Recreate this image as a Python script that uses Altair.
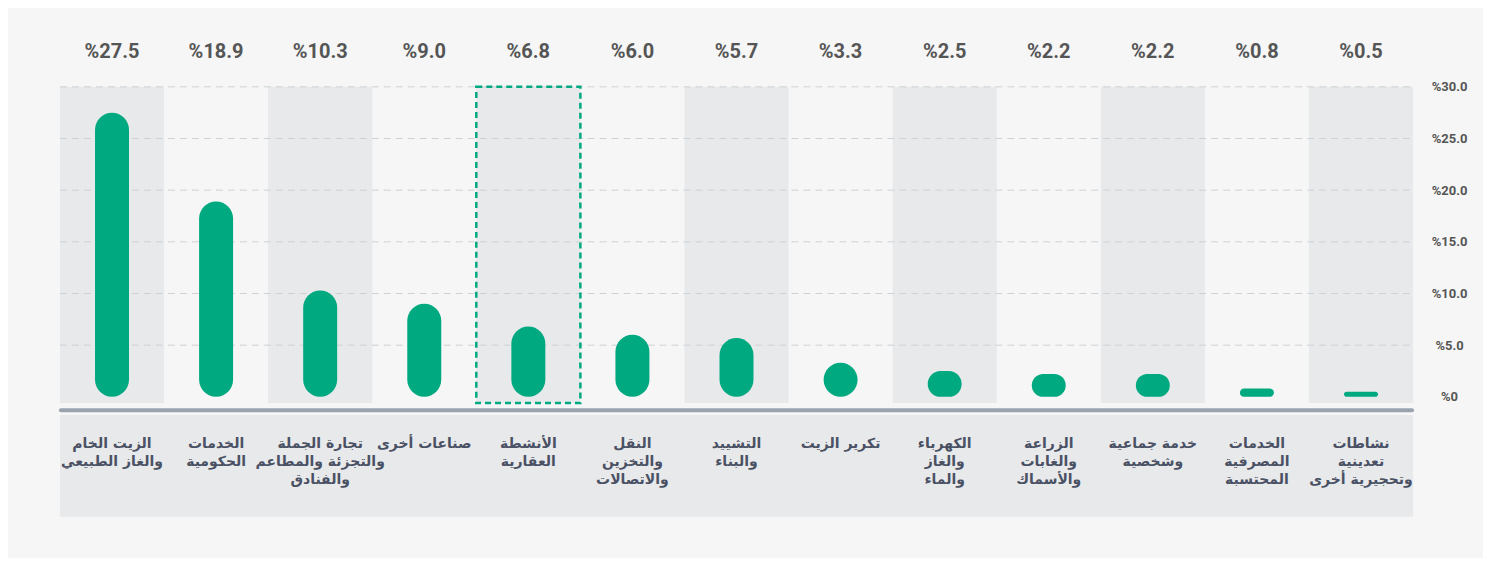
import altair as alt
import pandas as pd

# ---- data ----
categories = [
    "الزيت الخام\nوالغاز الطبيعي",
    "الخدمات\nالحكومية",
    "تجارة الجملة\nوالتجزئة والمطاعم\nوالفنادق",
    "صناعات أخرى",
    "الأنشطة\nالعقارية",
    "النقل\nوالتخزين\nوالاتصالات",
    "التشييد\nوالبناء",
    "تكرير الزيت",
    "الكهرباء\nوالغاز\nوالماء",
    "الزراعة\nوالغابات\nوالأسماك",
    "خدمة جماعية\nوشخصية",
    "الخدمات\nالمصرفية\nالمحتسبة",
    "نشاطات\nتعدينية\nوتحجيرية أخرى",
]
shares = [27.5, 18.9, 10.3, 9.0, 6.8, 6.0, 5.7, 3.3, 2.5, 2.2, 2.2, 0.8, 0.5]
value_labels = ["%27.5", "%18.9", "%10.3", "%9.0", "%6.8", "%6.0", "%5.7",
                "%3.3", "%2.5", "%2.2", "%2.2", "%0.8", "%0.5"]
highlight_index = 4
y_ticks = [0, 5, 10, 15, 20, 25, 30]
grid_values = [5, 10, 15, 20, 25, 30]

# ---- style ----
GREEN = "#00a97f"
BAND = "#e8e9eb"
BG = "#f6f6f6"
NUM_FONT = "Roboto"
AR_FONT = "DejaVu Sans"

W, H = 1354, 486
Y_MIN, Y_MAX = -12, 35

df = pd.DataFrame({
    "idx": list(range(len(categories))),
    "cat": categories,
    "share": shares,
    "vlabel": value_labels,
})
df["shaded"] = df["idx"] % 2 == 0
df["hl"] = df["idx"] == highlight_index

xenc = alt.X("idx:O", axis=None,
             scale=alt.Scale(paddingInner=0, paddingOuter=0))
yscale = alt.Scale(domain=[Y_MIN, Y_MAX], nice=False, zero=False)
yaxis = alt.Axis(
    orient="right", values=y_ticks, title=None, grid=False,
    domain=False, ticks=False, tickSize=0, labelPadding=36,
    labelAlign="center", labelFont=NUM_FONT, labelFontSize=13,
    labelFontWeight="bold", labelColor="#555555",
    labelExpr="datum.value == 0 ? '%0' : '%' + format(datum.value, '.1f')",
)


def Y(field):
    return alt.Y(field, scale=yscale, axis=yaxis, title=None)


base = alt.Chart(df)

bands = base.transform_filter("datum.shaded").transform_calculate(
    top="30", bottom="-0.6"
).mark_rect(color=BAND).encode(
    x=xenc, y=Y("top:Q"), y2="bottom:Q",
)

label_box = base.transform_aggregate(n="count()").transform_calculate(
    top="-1.75", bottom="-11.6"
).mark_rect(color=BAND).encode(
    x=alt.value(0), x2=alt.value(W), y=Y("top:Q"), y2="bottom:Q",
)

grid_df = pd.DataFrame({"g": grid_values})
grid = alt.Chart(grid_df).mark_rule(
    color="#cdd2d6", strokeDash=[7, 5], strokeWidth=1
).encode(
    x=alt.value(0), x2=alt.value(W), y=Y("g:Q"),
)

baseline = base.transform_aggregate(n="count()").transform_calculate(
    yb="-1.3"
).mark_rule(color="#9aa4ae", strokeWidth=4, strokeCap="round").encode(
    x=alt.value(1), x2=alt.value(W - 1), y=Y("yb:Q"),
)

bars = base.mark_bar(size=34, cornerRadius=17, color=GREEN).encode(
    x=xenc, y=Y("share:Q"), y2=alt.datum(0),
)

highlight = base.transform_filter("datum.hl").transform_calculate(
    top="30", bottom="-0.6"
).mark_rect(
    fillOpacity=0, stroke=GREEN, strokeWidth=2.5, strokeDash=[6, 4]
).encode(
    x=xenc, y=Y("top:Q"), y2="bottom:Q",
)

top_labels = base.transform_calculate(ty="33.4").mark_text(
    font=NUM_FONT, fontSize=20, fontWeight="bold", color="#555555",
    baseline="middle", align="center",
).encode(
    x=xenc, y=Y("ty:Q"), text="vlabel:N",
)

cat_labels = base.transform_calculate(cy="-3.85").mark_text(
    font=AR_FONT, fontSize=14, fontWeight="bold", color="#4a5164",
    baseline="top", align="center", lineBreak="\n", lineHeight=18,
).encode(
    x=xenc, y=Y("cy:Q"), text="cat:N",
)

chart = alt.layer(
    bands, label_box, grid, baseline, highlight, bars, top_labels, cat_labels
).properties(
    width=W, height=H,
    autosize=alt.AutoSizeParams(type="none"),
    padding={"left": 52, "top": 27, "right": 70, "bottom": 37},
    background=BG,
).configure_view(stroke=None)

chart.save("out.html", embed_options={"renderer": "svg", "actions": False})
